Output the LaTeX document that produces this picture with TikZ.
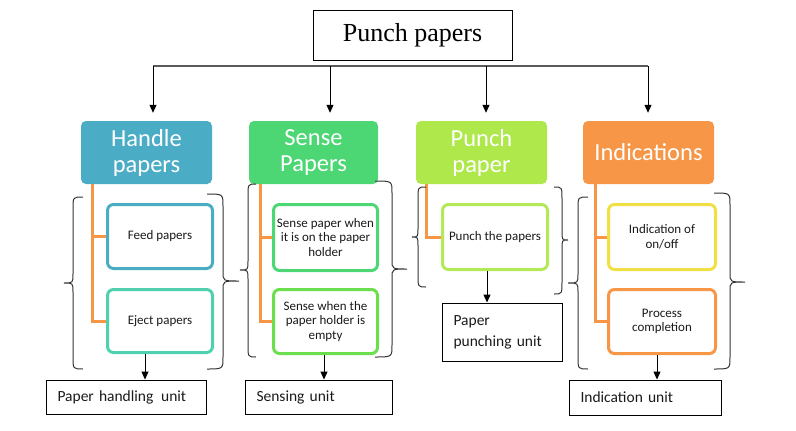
\documentclass[tikz,border=0pt]{standalone}
\usepackage{fontspec}
\setmainfont{Liberation Serif}
\newfontfamily\calfont{Carlito}
\usetikzlibrary{arrows.meta,calc}
\definecolor{hblue}{HTML}{4BACC6}
\definecolor{hgreen}{HTML}{4CD674}
\definecolor{hlime}{HTML}{AEE84B}
\definecolor{horange}{HTML}{F79646}
\definecolor{cteal}{HTML}{4FD1B0}
\definecolor{cgreen}{HTML}{6ADE4C}
\definecolor{clime}{HTML}{B3E857}
\definecolor{cyellow}{HTML}{F0E045}
\definecolor{textdark}{HTML}{1A1A1A}
\definecolor{busgray}{HTML}{5A5A5A}
\definecolor{bracegray}{HTML}{333333}
\newcommand{\mybrace}[6]{%
\draw[bracestyle] ({#1+#6},#2) .. controls (#1,#2) .. (#1,{#2+12}) -- (#1,{#5-9}) .. controls (#1,#5) .. (#4,#5) .. controls (#1,#5) .. (#1,{#5+9}) -- (#1,{#3-12}) .. controls (#1,#3) .. ({#1+#6},#3);}
\begin{document}
\begin{tikzpicture}[x=1pt,y=-1pt,
 header/.style={rounded corners=5pt, fill=#1, text=white, minimum width=131pt, minimum height=63pt, inner sep=0pt, align=center, font=\calfont\fontsize{24.5}{26}\selectfont},
 child/.style={draw=#1, line width=3pt, rounded corners=6pt, fill=white, minimum width=105pt, minimum height=64pt, inner sep=0pt, align=center, text=textdark, font=\calfont\fontsize{13}{14.5}\selectfont},
 unitbox/.style={draw=black, line width=0.9pt, inner xsep=11pt, inner ysep=0pt, align=left, text=textdark, font=\calfont\fontsize{15.5}{21}\selectfont},
 titlebox/.style={draw=black, line width=0.9pt, minimum width=199pt, minimum height=50pt, inner sep=0pt, font=\fontsize{26}{30}\selectfont},
 arr/.style={draw=black, line width=1pt, -{Triangle[length=8pt,width=7pt]}},
 busline/.style={draw=busgray, line width=1.2pt},
 orangeline/.style={draw=horange, line width=3pt},
 bracestyle/.style={draw=bracegray, line width=1pt}]
\useasboundingbox (0,0) rectangle (796,431);

% title
\node[titlebox] (title) at (412.5,35) {Punch papers};

% headers
\node[header=hblue] (hHandle) at (146.5,152.5) {Handle\\papers};
\node[header=hgreen, minimum width=129pt] (hSense) at (313.5,152.5) {Sense\\Papers};
\node[header=hlime] (hPunch) at (481.5,152.5) {Punch\\paper};
\node[header=horange] (hInd) at (648.5,152.5) {Indications};

% bus and drops
\coordinate (busL) at (153,66);
\coordinate (busR) at (648,66);
\coordinate (busB) at (330,66);
\coordinate (busC) at (486,66);
\draw[busline] (busL) -- (busR);
\draw[arr, shorten >=8pt] (busL) -- (busL |- hHandle.north);
\draw[arr, shorten >=8pt] (busB) -- (busB |- hSense.north);
\draw[arr, shorten >=8pt] (busC) -- (busC |- hPunch.north);
\draw[arr, shorten >=8pt] (busR) -- (busR |- hInd.north);

% children
\node[child=hblue] (cFeed) at (160,236.5) {Feed papers};
\node[child=cteal, minimum height=63pt] (cEject) at (160,321) {Eject papers};
\node[child=hgreen, minimum width=104pt, minimum height=66pt] (cSenseA) at (325.5,237.5) {Sense paper when\\it is on the paper\\holder};
\node[child=cgreen, minimum width=104pt] (cSenseB) at (325.5,321.5) {Sense when the\\paper holder is\\empty};
\node[child=clime, minimum height=65pt] (cPunch) at (495,237) {Punch the papers};
\node[child=cyellow, minimum width=107pt, minimum height=65pt] (cIndA) at (662,237) {Indication of\\on/off};
\node[child=horange, minimum width=107pt] (cIndB) at (662,321.5) {Process\\completion};

% orange connectors
\coordinate (sHandle) at ([xshift=12pt]hHandle.south west);
\coordinate (sSense) at ([xshift=12pt]hSense.south west);
\coordinate (sPunch) at ([xshift=11pt]hPunch.south west);
\coordinate (sInd) at ([xshift=13pt]hInd.south west);
\draw[orangeline] (sHandle) |- (cEject.west);
\draw[orangeline] (sHandle |- cFeed.west) -- (cFeed.west);
\draw[orangeline] (sSense) |- (cSenseB.west);
\draw[orangeline] (sSense |- cSenseA.west) -- (cSenseA.west);
\draw[orangeline] (sPunch) |- (cPunch.west);
\draw[orangeline] (sInd) |- (cIndB.west);
\draw[orangeline] (sInd |- cIndA.west) -- (cIndA.west);

% braces
\mybrace{73}{197}{369}{64}{283}{10}
\mybrace{223}{194}{369}{239}{281}{-16}
\mybrace{248}{184}{357}{240}{270}{8}
\mybrace{392}{181}{357}{407}{269}{-17}
\mybrace{418}{187}{287}{412}{237}{8}
\mybrace{562}{187}{294}{568}{240}{-8}
\mybrace{578}{197}{369}{568}{283}{10}
\mybrace{730}{193}{369}{745}{282}{-16}

% unit boxes
\node[unitbox, text width=138pt, minimum height=34pt] (uHandle) at (126.5,397) {Paper handling\, unit};
\node[unitbox, text width=125pt, minimum height=34pt] (uSense) at (319,397) {Sensing unit};
\node[unitbox, text width=98pt, minimum height=58pt] (uPunch) at (502.5,332) {Paper\\punching unit};
\node[unitbox, text width=130pt, minimum height=35pt] (uInd) at (645.5,397.5) {Indication unit};

% arrows to units
\coordinate (aHandle) at ([xshift=-15pt]cEject.south);
\coordinate (aSense) at ([xshift=-1.5pt]cSenseB.south);
\coordinate (aPunch) at ([xshift=-8pt]cPunch.south);
\coordinate (aInd) at ([xshift=-5pt]cIndB.south);
\draw[arr] (aHandle) -- (aHandle |- uHandle.north);
\draw[arr] (aSense) -- (aSense |- uSense.north);
\draw[arr] (aPunch) -- (aPunch |- uPunch.north);
\draw[arr] (aInd) -- (aInd |- uInd.north);
\end{tikzpicture}
\end{document}
